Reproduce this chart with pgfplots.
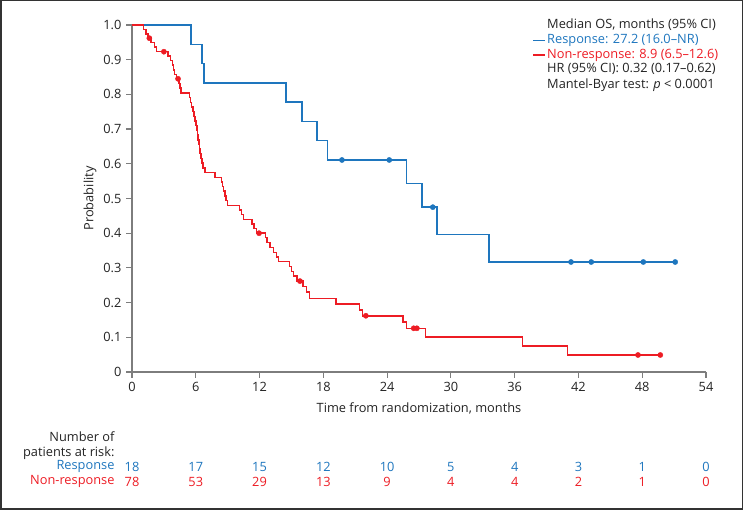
\documentclass[border=0pt]{standalone}
\usepackage{fontspec}
\setmainfont{Open Sans}
\usepackage{pgfplots}
\pgfplotsset{compat=1.18}

\definecolor{resp}{RGB}{30,118,190}
\definecolor{nonr}{RGB}{237,28,36}
\definecolor{axgray}{RGB}{125,125,125}
\definecolor{txt}{RGB}{35,35,35}

\newcommand{\fs}{\fontsize{12.8}{14}\selectfont}

\begin{document}
\begin{tikzpicture}[x=1pt,y=1pt]
\useasboundingbox (0,0) rectangle (743,510);
\draw[line width=1.5pt, black!80] (0.75,0.75) rectangle (742.25,509.25);

\begin{axis}[
    at={(132pt,138pt)}, anchor=origin,
    scale only axis,
    width=574pt, height=347pt,
    xmin=0, xmax=54, ymin=0, ymax=1,
    axis lines=left,
    axis line style={-, axgray, line width=1.6pt},
    tick style={axgray, line width=1.2pt},
    tick align=outside,
    major tick length=6pt,
    xtick={0,6,...,54},
    ytick={0,0.1,...,1.0},
    yticklabels={0,0.1,0.2,0.3,0.4,0.5,0.6,0.7,0.8,0.9,1.0},
    /pgf/number format/assume math mode=true,
    tick label style={font=\fs, text=txt},
    xticklabel style={yshift=-1pt},
    yticklabel style={xshift=-1pt},
    label style={font=\fs, text=txt},
    xlabel={Time from randomization, months},
    ylabel={Probability},
    xlabel style={at={(axis description cs:0.5,-0.1037)}, anchor=center},
    ylabel style={at={(axis description cs:-0.0732,0.5)}, anchor=center},
    clip=false,
]

% Response (blue)
\addplot[const plot, resp, line width=1.5pt] coordinates {
(0,1.0) (5.55,0.944) (6.6,0.889) (6.75,0.833) (14.5,0.778) (16.0,0.722)
(17.4,0.667) (18.4,0.611) (25.8,0.543) (27.3,0.475) (28.7,0.396)
(33.6,0.317) (51.1,0.317)
};
\addplot[only marks, mark=*, mark size=2.6pt, resp] coordinates {
(19.75,0.611) (24.2,0.611) (28.3,0.475) (41.3,0.317) (43.2,0.317)
(48.1,0.317) (51.1,0.317)
};

% Non-response (red)
\addplot[const plot, nonr, line width=1.5pt] coordinates {
(0,1.0) (1.1,0.987) (1.3,0.974) (1.5,0.962) (1.8,0.949) (2.1,0.936)
(2.3,0.923) (3.4,0.910) (3.6,0.897) (3.8,0.884) (3.9,0.871) (4.0,0.858)
(4.2,0.845) (4.4,0.831) (4.5,0.818) (4.6,0.804) (5.4,0.791) (5.5,0.777)
(5.6,0.764) (5.75,0.750) (5.85,0.737) (5.95,0.723) (6.0,0.710) (6.1,0.696)
(6.15,0.683) (6.2,0.669) (6.3,0.656) (6.35,0.642) (6.4,0.629) (6.5,0.615)
(6.6,0.602) (6.7,0.588) (6.85,0.575) (7.8,0.561) (8.4,0.548) (8.5,0.534)
(8.6,0.521) (8.75,0.507) (8.85,0.494) (9.0,0.480) (10.1,0.467) (10.3,0.454)
(10.5,0.440) (11.3,0.427) (11.5,0.413) (11.7,0.400) (12.55,0.387)
(12.7,0.373) (13.0,0.359) (13.3,0.345) (13.6,0.331) (13.8,0.318)
(14.8,0.304) (15.0,0.290) (15.2,0.276) (15.5,0.262) (16.1,0.246)
(16.4,0.231) (16.7,0.212) (19.2,0.196) (21.4,0.179) (21.7,0.162)
(25.5,0.144) (25.8,0.126) (27.6,0.101) (36.75,0.075) (40.95,0.049)
(49.7,0.049)
};
\addplot[only marks, mark=*, mark size=2.6pt, nonr] coordinates {
(1.63,0.962) (3.0,0.923) (4.33,0.845) (11.95,0.400) (15.8,0.262)
(22.0,0.162) (26.5,0.126) (26.8,0.126) (47.6,0.049) (49.7,0.049)
};

% numbers at risk
\foreach \xx/\nr in {0/18,6/17,12/15,18/12,24/10,30/5,36/4,42/3,48/1,54/0}{
  \edef\tmp{\noexpand\node[font=\noexpand\fs, text=resp, yshift=-94.7pt] at (axis cs:\xx,0) {\nr};}\tmp
}
\foreach \xx/\nr in {0/78,6/53,12/29,18/13,24/9,30/4,36/4,42/2,48/1,54/0}{
  \edef\tmp{\noexpand\node[font=\noexpand\fs, text=nonr, yshift=-109.7pt] at (axis cs:\xx,0) {\nr};}\tmp
}
\end{axis}

% risk table row labels
\node[anchor=east, font=\fs, text=txt] at (118,73.3) {Number of};
\node[anchor=east, font=\fs, text=txt] at (118,57.3) {patients at risk:};
\node[anchor=east, font=\fs, text=resp] at (118,43.3) {Response};
\node[anchor=east, font=\fs, text=nonr] at (118,28.3) {Non-response};

% legend block
\node[anchor=west, font=\fs, text=txt, inner sep=0pt] at (547,485) {Median OS, months (95\% CI)};
\draw[resp, line width=1.4pt] (533,469.3) -- (545,469.3);
\node[anchor=west, font=\fs, text=resp, inner sep=0pt] at (547,469.3) {Response: 27.2 (16.0–NR)};
\draw[nonr, line width=1.4pt] (533,455) -- (545,455);
\node[anchor=west, font=\fs, text=nonr, inner sep=0pt] at (547,455) {Non-response: 8.9 (6.5–12.6)};
\node[anchor=west, font=\fs, text=txt, inner sep=0pt] at (547,440.7) {HR (95\% CI): 0.32 (0.17–0.62)};
\node[anchor=west, font=\fs, text=txt, inner sep=0pt] at (547,425) {Mantel-Byar test: \textit{p} < 0.0001};
\end{tikzpicture}
\end{document}
